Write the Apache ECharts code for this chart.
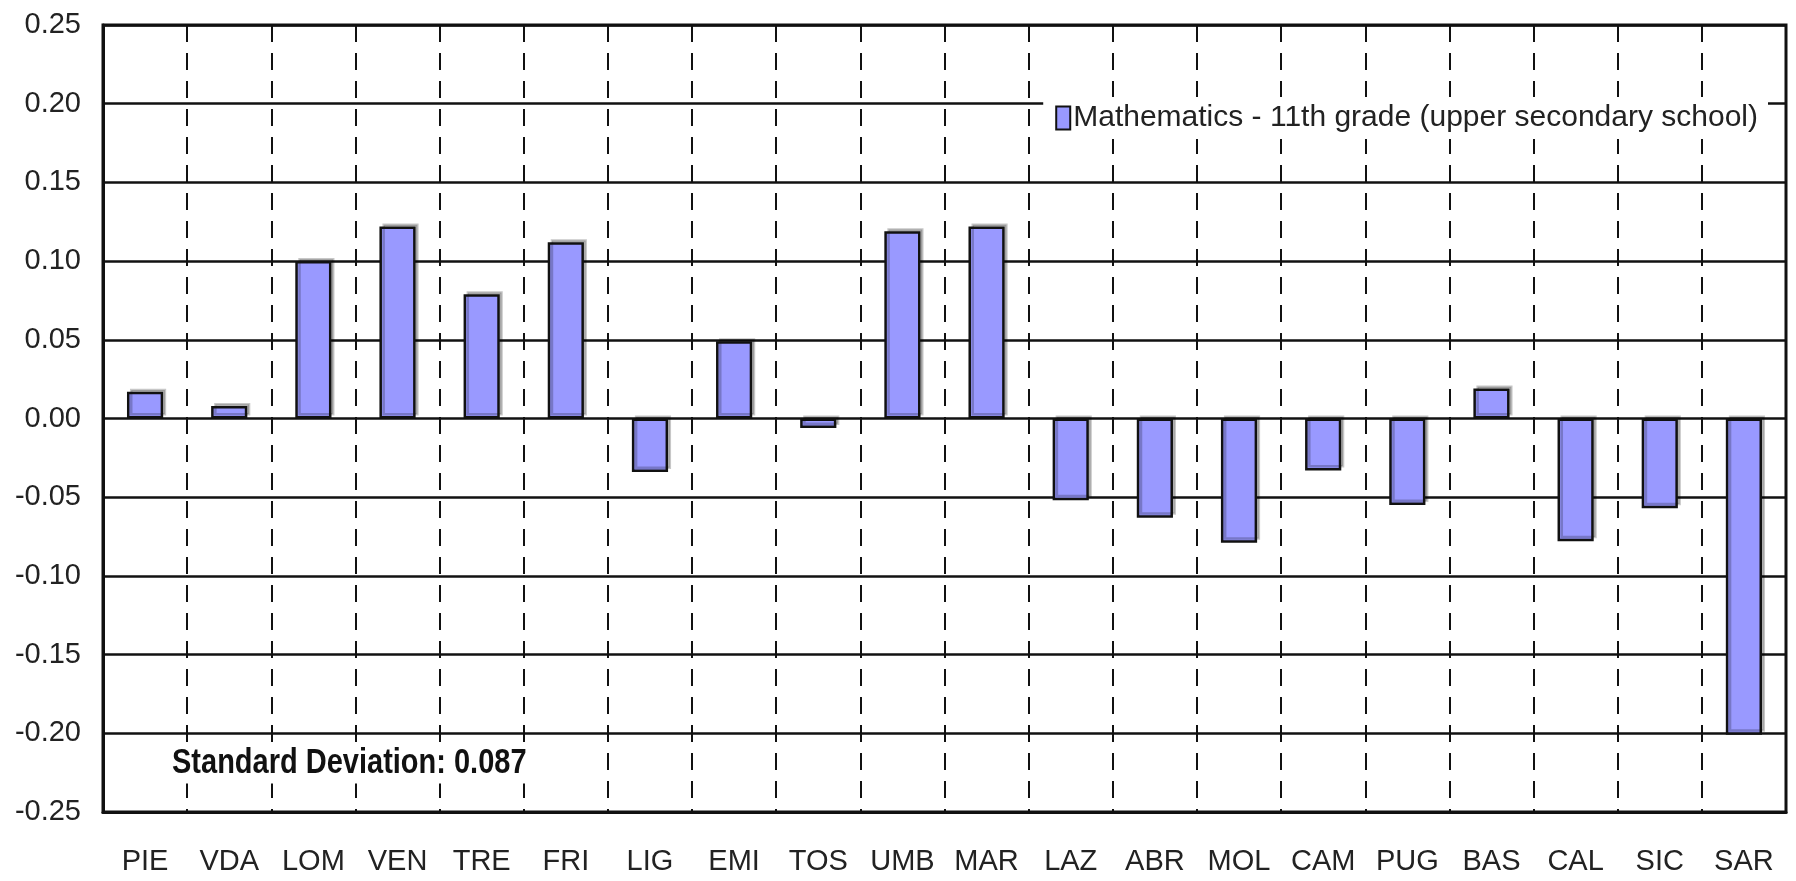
<!DOCTYPE html>
<html>
<head>
<meta charset="utf-8">
<script src="https://cdn.jsdelivr.net/npm/echarts@6/dist/echarts.min.js"></script>
<style>
html,body{margin:0;padding:0;background:#fff;}
#chart{width:1796px;height:881px;}
</style>
</head>
<body>
<div id="chart"></div>
<script>
const categories = ['PIE','VDA','LOM','VEN','TRE','FRI','LIG','EMI','TOS','UMB','MAR','LAZ','ABR','MOL','CAM','PUG','BAS','CAL','SIC','SAR'];
const mathValues = [0.017,0.008,0.100,0.122,0.079,0.112,-0.034,0.049,-0.006,0.119,0.122,-0.052,-0.063,-0.079,-0.033,-0.055,0.019,-0.078,-0.057,-0.201];
const seriesName = 'Mathematics - 11th grade (upper secondary school)';
const noteText = 'Standard Deviation: 0.087';
const yMin = -0.25, yMax = 0.25, yStep = 0.05;

const FONT = '"Liberation Sans", Arial, sans-serif';
const chart = echarts.init(document.getElementById('chart'));
chart.setOption({
  animation: false,
  backgroundColor: '#ffffff',
  grid: { left: 103, right: 10, top: 25, bottom: 69, show: true, borderColor: '#111', borderWidth: 3, backgroundColor: 'transparent' },
  legend: {
    show: true,
    right: 28,
    top: 97,
    backgroundColor: '#ffffff',
    padding: [6, 10, 6, 12],
    itemWidth: 14,
    itemHeight: 23,
    itemGap: 4,
    icon: 'rect',
    itemStyle: { color: '#9999ff', borderColor: '#111', borderWidth: 2 },
    textStyle: { fontFamily: FONT, fontSize: 30, color: '#222', padding: [0,0,0,-2] },
    data: [seriesName]
  },
  xAxis: {
    type: 'category',
    data: categories,
    boundaryGap: true,
    axisLine: { show: true, onZero: false, lineStyle: { color: '#111', width: 3 } },
    axisTick: { show: false },
    axisLabel: { fontFamily: FONT, fontSize: 29, color: '#222', margin: 35, interval: 0 },
    splitLine: { show: true, interval: 0, lineStyle: { color: '#111', width: 2, type: [17, 11] } }
  },
  yAxis: {
    type: 'value',
    min: yMin, max: yMax, interval: yStep,
    axisLine: { show: true, lineStyle: { color: '#111', width: 3 } },
    axisTick: { show: false },
    axisLabel: { fontFamily: FONT, fontSize: 29, color: '#222', margin: 22, formatter: v => v.toFixed(2) },
    splitLine: { show: true, lineStyle: { color: '#111', width: 2.5 } }
  },
  series: [{
    name: seriesName,
    type: 'bar',
    data: mathValues,
    barWidth: '43%',
    itemStyle: { color: '#9999ff', borderColor: '#111', borderWidth: 2.5, shadowColor: 'rgba(0,0,0,0.22)', shadowOffsetX: 3, shadowOffsetY: -3, shadowBlur: 0 }
  }],
  graphic: [{
    type: 'text',
    left: 168,
    top: 744,
    scaleY: 1.2,
    z: 100,
    style: { text: noteText, fontFamily: FONT, fontWeight: 'bold', fontSize: 29, fill: '#111', backgroundColor: '#ffffff', padding: [2, 4, 2, 4] }
  }]
});
</script>
</body>
</html>
